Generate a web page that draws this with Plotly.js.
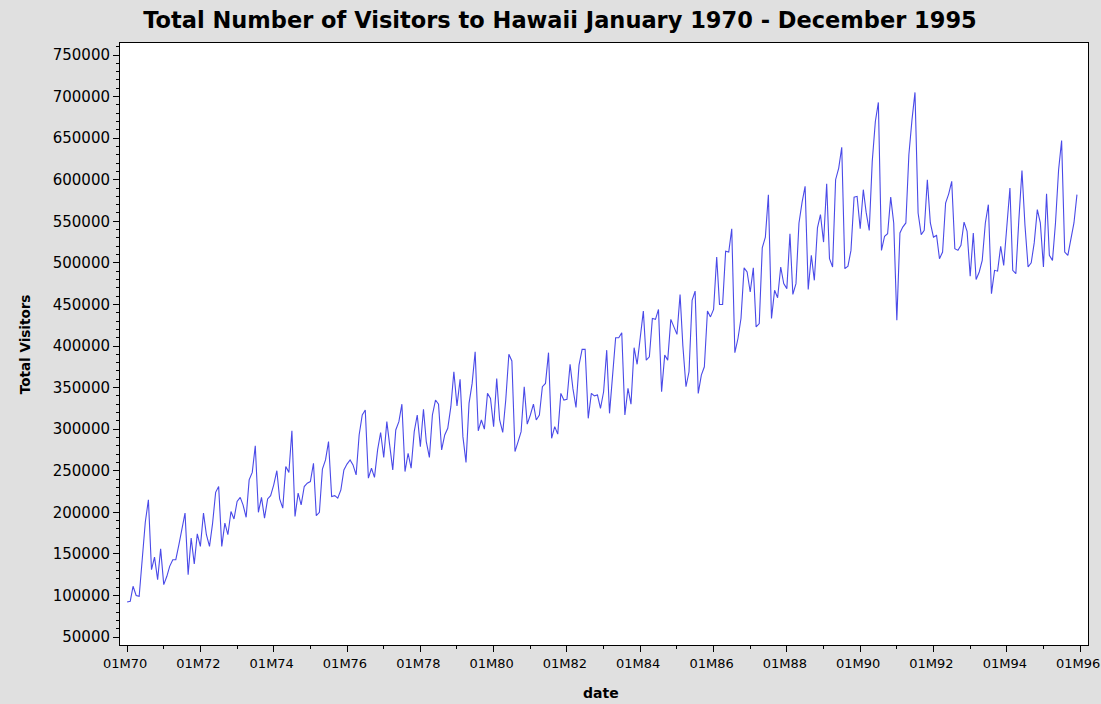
<!DOCTYPE html>
<html>
<head>
<meta charset="utf-8">
<script src="https://cdn.plot.ly/plotly-3.0.1.min.js"></script>
<style>
  html, body { margin: 0; padding: 0; background: #ffffff; }
  #chart { width: 1101px; height: 704px; }
</style>
</head>
<body>
<div id="chart"></div>
<script>
// Monthly visitors, January 1970 - December 1995
const startYear = 1970;
const visitors = [
  // 1970
  92000, 93000, 111000, 100000, 99000, 140000, 188000, 215000, 131000, 146000, 119000, 156000,
  // 1971
  113000, 123000, 135000, 143000, 143000, 161000, 179000, 199000, 125000, 169000, 138000, 174000,
  // 1972
  159000, 199000, 173000, 159000, 186000, 224000, 231000, 159000, 187000, 173000, 201000, 192000,
  // 1973
  213000, 218000, 209000, 194000, 239000, 248000, 280000, 200000, 218000, 193000, 216000, 220000,
  // 1974
  233000, 250000, 216000, 205000, 255000, 248000, 298000, 195000, 223000, 209000, 231000, 235000,
  // 1975
  237000, 259000, 196000, 200000, 252000, 263000, 285000, 219000, 220000, 217000, 227000, 251000,
  // 1976
  258000, 263000, 257000, 245000, 293000, 317000, 323000, 241000, 253000, 242000, 275000, 296000,
  // 1977
  266000, 309000, 281000, 251000, 299000, 309000, 330000, 249000, 271000, 253000, 297000, 317000,
  // 1978
  279000, 324000, 285000, 266000, 317000, 335000, 330000, 275000, 293000, 301000, 327000, 369000,
  // 1979
  328000, 360000, 291000, 260000, 331000, 355000, 393000, 298000, 311000, 300000, 343000, 337000,
  // 1980
  303000, 361000, 311000, 296000, 335000, 390000, 382000, 273000, 285000, 297000, 351000, 306000,
  // 1981
  317000, 330000, 311000, 317000, 351000, 355000, 392000, 289000, 303000, 294000, 343000, 335000,
  // 1982
  336000, 378000, 349000, 326000, 377000, 396000, 396000, 313000, 343000, 340000, 341000, 325000,
  // 1983
  345000, 395000, 319000, 361000, 410000, 410000, 416000, 317000, 349000, 330000, 398000, 378000,
  // 1984
  410000, 442000, 383000, 387000, 433000, 432000, 444000, 345000, 389000, 383000, 432000, 423000,
  // 1985
  414000, 462000, 400000, 351000, 369000, 455000, 466000, 343000, 365000, 375000, 442000, 435000,
  // 1986
  444000, 507000, 450000, 450000, 514000, 513000, 541000, 392000, 409000, 433000, 494000, 489000,
  // 1987
  465000, 494000, 423000, 427000, 518000, 531000, 582000, 433000, 467000, 458000, 495000, 475000,
  // 1988
  469000, 535000, 462000, 475000, 548000, 573000, 592000, 468000, 509000, 479000, 542000, 558000,
  // 1989
  525000, 595000, 505000, 495000, 600000, 614000, 639000, 493000, 496000, 515000, 579000, 580000,
  // 1990
  541000, 588000, 561000, 539000, 622000, 670000, 693000, 515000, 532000, 535000, 579000, 548000,
  // 1991
  431000, 536000, 543000, 548000, 630000, 672000, 705000, 560000, 534000, 539000, 600000, 548000,
  // 1992
  531000, 533000, 505000, 513000, 572000, 583000, 598000, 517000, 515000, 521000, 549000, 538000,
  // 1993
  484000, 536000, 480000, 489000, 503000, 548000, 570000, 463000, 491000, 490000, 520000, 497000,
  // 1994
  545000, 590000, 491000, 487000, 552000, 611000, 545000, 495000, 500000, 524000, 564000, 548000,
  // 1995
  495000, 583000, 509000, 503000, 548000, 612000, 647000, 513000, 509000, 527000, 548000, 582000
];

const tickYears = [1970, 1972, 1974, 1976, 1978, 1980, 1982, 1984, 1986, 1988, 1990, 1992, 1994, 1996];
const tickLabels = ['01M70','01M72','01M74','01M76','01M78','01M80','01M82','01M84','01M86','01M88','01M90','01M92','01M94','01M96'];
const minorYears = [1971, 1973, 1975, 1977, 1979, 1981, 1983, 1985, 1987, 1989, 1991, 1993, 1995];
const yTicks = [50000,100000,150000,200000,250000,300000,350000,400000,450000,500000,550000,600000,650000,700000,750000];

function pad(n) { return (n < 10 ? '0' : '') + n; }
const dates = visitors.map(function (v, i) {
  return (startYear + Math.floor(i / 12)) + '-' + pad(i % 12 + 1) + '-01';
});
const tickDates = tickYears.map(function (y) { return y + '-01-01'; });
const minorDates = minorYears.map(function (y) { return y + '-01-01'; });

const FONT = 'DejaVu Sans, Verdana, sans-serif';

const trace = {
  type: 'scatter',
  mode: 'lines',
  x: dates,
  y: visitors,
  line: { color: '#4a4ae8', width: 1.1 },
  hoverinfo: 'x+y'
};

const layout = {
  width: 1101,
  height: 704,
  paper_bgcolor: '#e0e0e0',
  plot_bgcolor: '#ffffff',
  margin: { l: 120, r: 13, t: 43, b: 59, pad: 0 },
  showlegend: false,
  font: { family: FONT, size: 14, color: '#000000' },
  title: {
    text: '<b>Total Number of Visitors to Hawaii January 1970 - December 1995</b>',
    font: { family: FONT, size: 22.5, color: '#000000' },
    xref: 'container', x: 0.5086, xanchor: 'center',
    yref: 'container', y: 0.971, yanchor: 'middle'
  },
  xaxis: {
    type: 'date',
    range: ['1969-10-22', '1996-03-20'],
    tickmode: 'array',
    tickvals: tickDates,
    ticktext: tickLabels,
    ticklabeloverflow: 'allow',
    ticklabelshift: -2,
    ticks: 'outside', ticklen: 6, tickwidth: 1, tickcolor: '#000000',
    showline: true, linecolor: '#000000', linewidth: 1, mirror: true,
    showgrid: false, zeroline: false,
    tickfont: { family: FONT, size: 13, color: '#000000' },
    minor: { ticks: 'outside', ticklen: 3, tickcolor: '#000000', tickvals: minorDates, showgrid: false }
  },
  yaxis: {
    range: [40378, 764432],
    tickmode: 'array',
    tickvals: yTicks,
    ticktext: yTicks.map(String),
    ticks: 'outside', ticklen: 6, tickwidth: 1, tickcolor: '#000000',
    showline: true, linecolor: '#000000', linewidth: 1, mirror: true,
    showgrid: false, zeroline: false,
    tickfont: { family: FONT, size: 15, color: '#000000' },
    minor: { ticks: 'outside', ticklen: 3, tickcolor: '#000000', dtick: 10000, showgrid: false }
  },
  annotations: [
    {
      text: '<b>Total Visitors</b>', textangle: -90,
      xref: 'paper', yref: 'paper', x: -0.098, y: 0.5, xanchor: 'center', yanchor: 'middle',
      showarrow: false, font: { family: FONT, size: 13.5, color: '#000000' }
    },
    {
      text: '<b>date</b>',
      xref: 'paper', yref: 'paper', x: 0.497, y: -0.08, xanchor: 'center', yanchor: 'middle',
      showarrow: false, font: { family: FONT, size: 14, color: '#000000' }
    }
  ]
};

Plotly.newPlot('chart', [trace], layout, { displayModeBar: false, staticPlot: true });
</script>
</body>
</html>
